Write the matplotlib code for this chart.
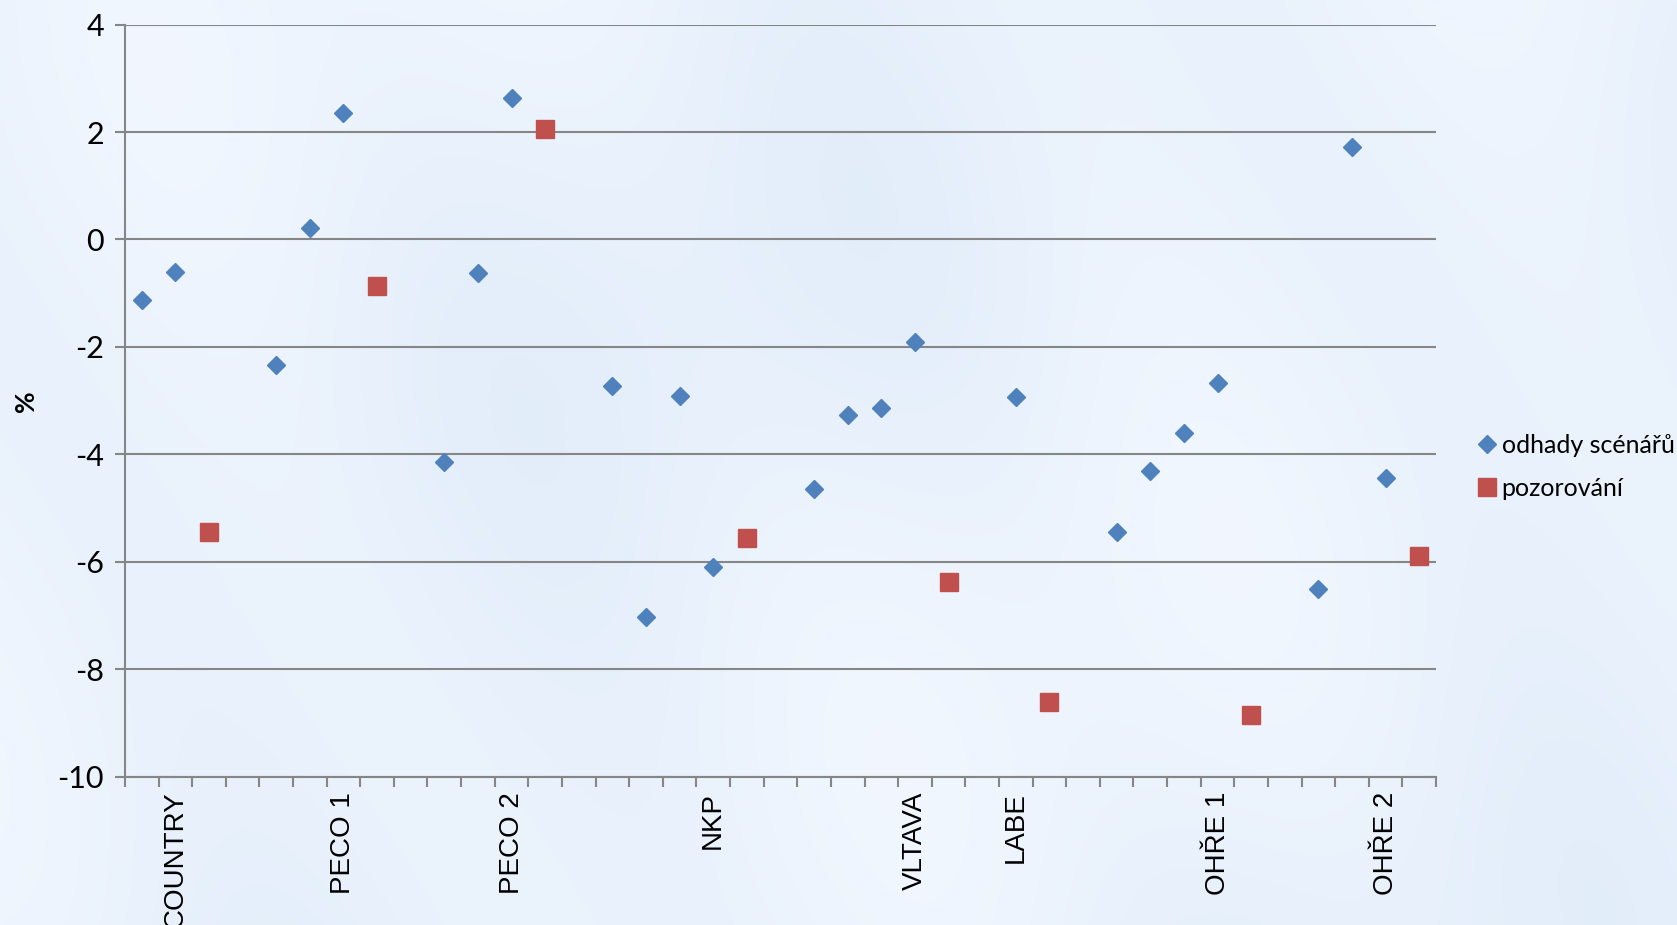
import numpy as np
import matplotlib.pyplot as plt
from matplotlib.lines import Line2D

plt.rcParams["axes.unicode_minus"] = False

# category slots along the x axis (empty string = unlabelled slot)
labels = [""] * 39
labels[1] = "COUNTRY"
labels[6] = "PECO 1"
labels[11] = "PECO 2"
labels[17] = "NKP"
labels[23] = "VLTAVA"
labels[26] = "LABE"
labels[32] = "OHŘE 1"
labels[37] = "OHŘE 2"

# scenario estimates (slot index, value in %)
scen_idx = [0, 1, 4, 5, 6, 9, 10, 11, 14, 15, 16, 17, 20, 21, 22, 23,
            26, 29, 30, 31, 32, 35, 36, 37]
scen_val = [-1.12, -0.60, -2.33, 0.22, 2.35, -4.14, -0.62, 2.63, -2.73, -7.03,
            -2.91, -6.10, -4.64, -3.27, -3.13, -1.91, -2.93, -5.44, -4.32, -3.61,
            -2.67, -6.51, 1.73, -4.44]

# observations
obs_idx = [2, 7, 12, 18, 24, 27, 33, 38]
obs_val = [-5.44, -0.86, 2.05, -5.56, -6.37, -8.61, -8.86, -5.90]

blue = "#4F81BD"
red = "#C0504D"
grey = "#868686"

fig = plt.figure(figsize=(16.77, 9.25), dpi=100)

# soft pale-blue backdrop
bg = fig.add_axes([0, 0, 1, 1], zorder=-10)
yy, xx = np.mgrid[0:1:200j, 0:1:360j]
shade = (0.60 + 0.18 * np.sin(xx * 9 + yy * 3) + 0.12 * np.sin(xx * 23 - yy * 5)
         + 0.10 * np.cos(yy * 7 + xx * 2))
base = np.array([0.87, 0.92, 0.975])
light = np.array([0.95, 0.97, 1.0])
img = base + (light - base) * np.clip(shade, 0, 1)[..., None]
bg.imshow(img, aspect="auto", extent=[0, 1, 0, 1], interpolation="bicubic")
bg.axis("off")

ax = fig.add_axes([0.0745, 0.1605, 0.7818, 0.8129])
ax.patch.set_alpha(0)

ax.plot(scen_idx, scen_val, linestyle="none", marker="D", markersize=9.5,
        color=blue, zorder=3)
ax.plot(obs_idx, obs_val, linestyle="none", marker="s", markersize=13,
        color=red, zorder=3)

ax.set_xlim(-0.5, len(labels) - 0.5)
ax.set_ylim(-10, 4)
ax.set_yticks(range(-10, 5, 2))
ax.grid(axis="y", color=grey, linewidth=1.5)
ax.set_axisbelow(True)

ax.set_xticks(range(len(labels)))
ax.set_xticklabels(labels, rotation=90, fontsize=20, family="Liberation Sans",
                   va="top")
ax.set_xticks(np.arange(-0.5, len(labels), 1), minor=True)
ax.tick_params(axis="x", which="major", length=0, pad=11)
ax.tick_params(axis="x", which="minor", length=7, width=1.5, color=grey,
               direction="out")
ax.tick_params(axis="y", length=7, width=1.5, color=grey, direction="out",
               labelsize=22, pad=8)
for t in ax.get_yticklabels():
    t.set_family("Lato")

for s in ["top", "right"]:
    ax.spines[s].set_visible(False)
for s in ["left", "bottom"]:
    ax.spines[s].set_color(grey)
    ax.spines[s].set_linewidth(1.5)

fig.text(0.0155, 0.566, "%", rotation=90, ha="center", va="center",
         fontsize=19, fontweight="bold", family="Lato")

handles = [
    Line2D([], [], linestyle="none", marker="D", markersize=9.5, color=blue),
    Line2D([], [], linestyle="none", marker="s", markersize=13, color=red),
]
fig.legend(handles, ["odhady scénářů", "pozorování"], loc="center left",
           bbox_to_anchor=(0.876, 0.495), frameon=False, handlelength=0.6,
           handletextpad=0.3, labelspacing=0.8, borderaxespad=0,
           prop={"family": "Lato", "size": 18})

fig.savefig("out.png", dpi=100)
